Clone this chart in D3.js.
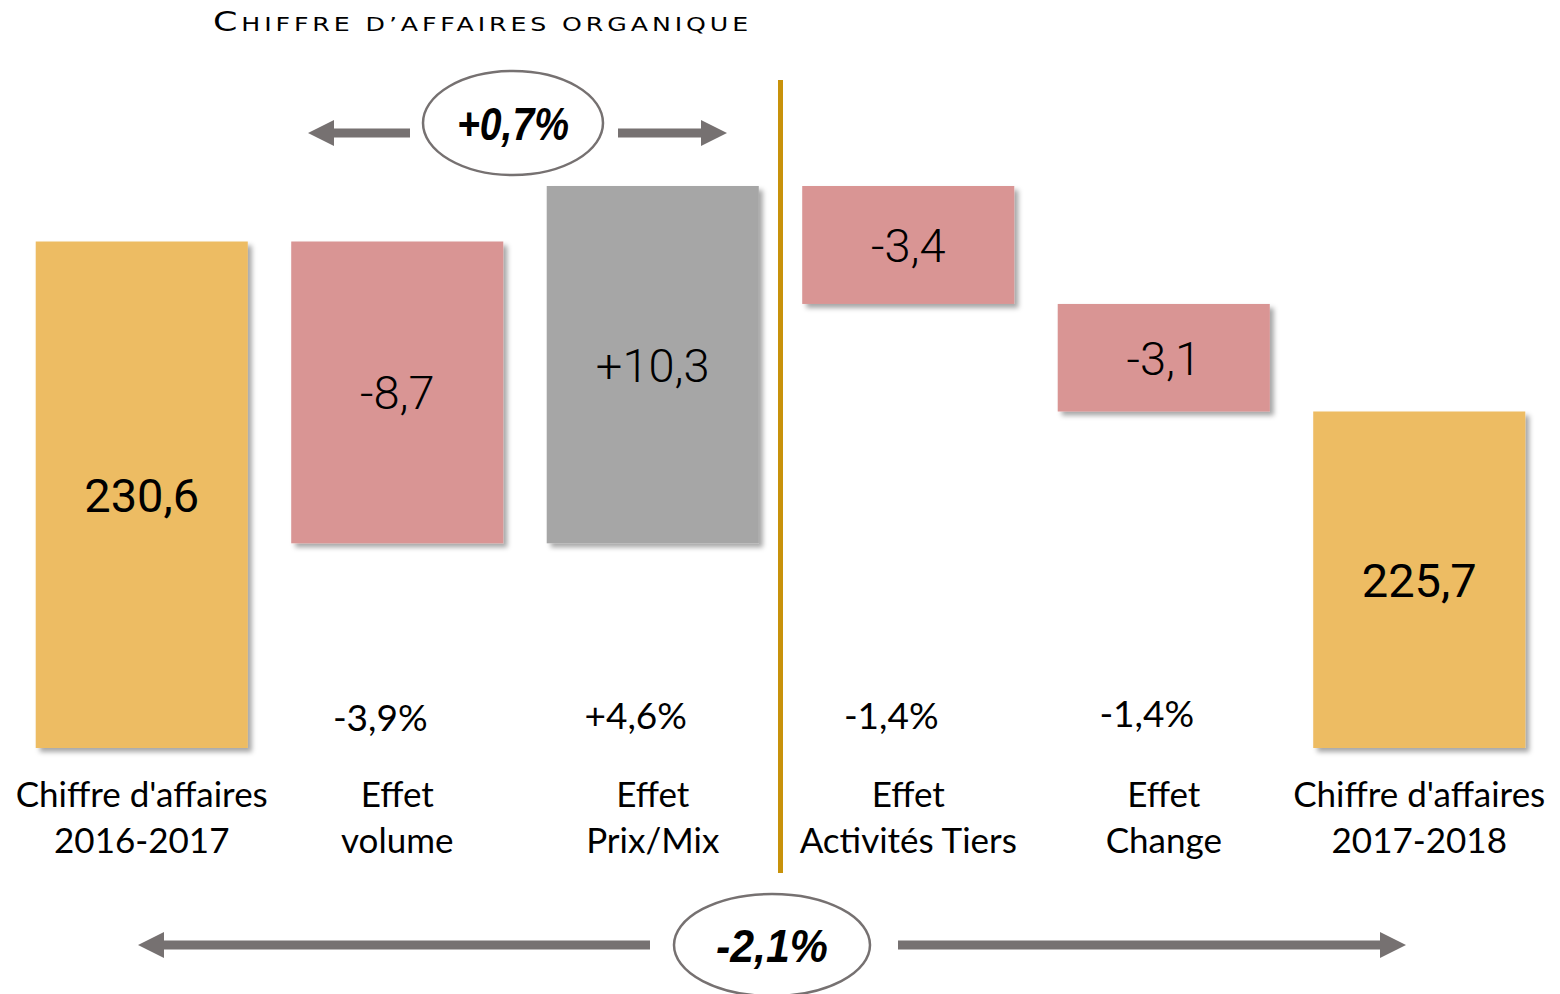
<!DOCTYPE html>
<html>
<head>
<meta charset="utf-8">
<script src="https://cdn.jsdelivr.net/npm/d3@7"></script>
<style>
  html, body { margin: 0; padding: 0; background: #fff; }
  #canvas { width: 1560px; height: 994px; }
</style>
</head>
<body>
<div id="canvas"></div>
<script>
// data
var categories = [
  ["Chiffre d'affaires", "2016-2017"],
  ["Effet", "volume"],
  ["Effet", "Prix/Mix"],
  ["Effet", "Activités Tiers"],
  ["Effet", "Change"],
  ["Chiffre d'affaires", "2017-2018"]
];
var values = [230.6, -8.7, 10.3, -3.4, -3.1, 225.7];
var kinds = ["total", "delta", "delta", "delta", "delta", "total"];
var valueLabels = ["230,6", "-8,7", "+10,3", "-3,4", "-3,1", "225,7"];
var pctLabels = ["", "-3,9%", "+4,6%", "-1,4%", "-1,4%", ""];
var organicLabel = "+0,7%";
var totalLabel = "-2,1%";
var title = "Chiffre d\u2019affaires organique";

var ChartUtil = {
  svg: null,

  draw: function() {
    var width = 1560, height = 994;

    var svg = d3.select("#canvas").append("svg")
      .attr("width", width)
      .attr("height", height);
    ChartUtil.svg = svg;

    // soft shadow under the bars
    var defs = svg.append("defs");
    var f = defs.append("filter").attr("id", "shadow")
      .attr("x", "-5%").attr("y", "-5%").attr("width", "115%").attr("height", "115%");
    f.append("feDropShadow")
      .attr("dx", 4).attr("dy", 4).attr("stdDeviation", 2.5)
      .attr("flood-color", "#000").attr("flood-opacity", 0.35);

    // build the waterfall steps
    var running = 0;
    var steps = values.map(function(v, i) {
      var s;
      if (kinds[i] === "total") {
        s = { y0: 0, y1: v };
        running = v;
      } else {
        s = { y0: running, y1: running + v };
        running += v;
      }
      s.i = i;
      s.v = v;
      s.kind = kinds[i];
      return s;
    });

    var x = d3.scaleBand()
      .domain(d3.range(values.length))
      .range([14, 1547])
      .paddingInner(0.17)
      .paddingOuter(0.085);

    // truncated axis, as in the original
    var y = d3.scaleLinear()
      .domain([216.0, 232.2])
      .range([748, 186]);

    var color = function(d) {
      if (d.kind === "total") return "#EDBC63";
      return d.v < 0 ? "#D99594" : "#A6A6A6";
    };
    var top = function(d) {
      return d.kind === "total" ? y(d.y1) : y(Math.max(d.y0, d.y1));
    };
    var bottom = function(d) {
      return d.kind === "total" ? y.range()[0] : y(Math.min(d.y0, d.y1));
    };

    var bars = svg.append("g");
    bars.selectAll("rect")
      .data(steps)
      .enter().append("rect")
      .attr("x", function(d) { return x(d.i); })
      .attr("width", x.bandwidth())
      .attr("y", top)
      .attr("height", function(d) { return bottom(d) - top(d); })
      .attr("fill", color)
      .attr("filter", "url(#shadow)");

    // values in the bars
    bars.selectAll("text.val")
      .data(steps)
      .enter().append("text")
      .attr("class", "val")
      .attr("x", function(d) { return x(d.i) + x.bandwidth() / 2; })
      .attr("y", function(d) { return (top(d) + bottom(d)) / 2; })
      .attr("dy", "0.36em")
      .attr("text-anchor", "middle")
      .style("font-family", "Roboto, sans-serif")
      .style("font-size", "47px")
      .style("font-weight", function(d) { return d.kind === "total" ? 400 : 300; })
      .attr("fill", "#000")
      .text(function(d) { return valueLabels[d.i]; });

    // percentages under the bars
    svg.append("g").selectAll("text")
      .data(pctLabels)
      .enter().append("text")
      .attr("x", function(d, i) { return x(i) + x.bandwidth() / 2 - 17; })
      .attr("y", function(d, i) { return [0, 731, 729, 729, 727, 0][i]; })
      .attr("text-anchor", "middle")
      .style("font-family", "Lato, 'Open Sans', sans-serif")
      .style("font-size", "37px")
      .attr("fill", "#000")
      .text(function(d) { return d; });

    // category labels
    var cat = svg.append("g").selectAll("text")
      .data(categories)
      .enter().append("text")
      .attr("text-anchor", "middle")
      .attr("x", function(d, i) { return x(i) + x.bandwidth() / 2; })
      .attr("y", 807)
      .style("font-family", "Lato, 'Open Sans', sans-serif")
      .style("font-size", "35px")
      .attr("fill", "#000");
    cat.append("tspan")
      .attr("x", function(d, i) { return x(i) + x.bandwidth() / 2; })
      .text(function(d) { return d[0]; });
    cat.append("tspan")
      .attr("x", function(d, i) { return x(i) + x.bandwidth() / 2; })
      .attr("dy", 46)
      .text(function(d) { return d[1]; });

    // separator between organic and other effects
    var sepX = (x(2) + x.bandwidth() + x(3)) / 2;
    svg.append("line")
      .attr("x1", sepX).attr("x2", sepX)
      .attr("y1", 80).attr("y2", 873)
      .attr("stroke", "#C8920A")
      .attr("stroke-width", 5);

    // title in small capitals, only the first letter full size
    var t = svg.append("text")
      .attr("x", 213)
      .attr("y", 31)
      .attr("textLength", 539)
      .attr("lengthAdjust", "spacingAndGlyphs")
      .style("font-family", "'DejaVu Sans', sans-serif")
      .style("letter-spacing", "3px")
      .attr("fill", "#000");
    var up = title.toUpperCase();
    t.append("tspan").style("font-size", "27px").text(up.slice(0, 1));
    t.append("tspan").style("font-size", "19.5px").text(up.slice(1));

    // bubbles with arrows
    ChartUtil.bubble(513, 123, 90, 52, organicLabel, 308, 410, 618, 727, 133);
    ChartUtil.bubble(772, 945, 98, 51, totalLabel, 138, 650, 898, 1406, 945);
  },

  arrow: function(xFrom, xTo, yy) {
    var dir = xTo > xFrom ? 1 : -1;
    var head = 26, half = 13, th = 4.5;
    var xb = xTo - dir * head;
    var pts = [
      [xFrom, yy - th], [xb, yy - th], [xb, yy - half], [xTo, yy],
      [xb, yy + half], [xb, yy + th], [xFrom, yy + th]
    ];
    ChartUtil.svg.append("path")
      .attr("d", d3.line()(pts) + "Z")
      .attr("fill", "#767171");
  },

  bubble: function(cx, cy, rx, ry, label, lTip, lEnd, rStart, rTip, ay) {
    ChartUtil.arrow(lEnd, lTip, ay);
    ChartUtil.arrow(rStart, rTip, ay);
    ChartUtil.svg.append("ellipse")
      .attr("cx", cx).attr("cy", cy)
      .attr("rx", rx).attr("ry", ry)
      .attr("fill", "#fff")
      .attr("stroke", "#767171")
      .attr("stroke-width", 2.5);
    ChartUtil.svg.append("text")
      .attr("x", cx).attr("y", cy)
      .attr("dy", "0.36em")
      .attr("text-anchor", "middle")
      .attr("textLength", 112)
      .attr("lengthAdjust", "spacingAndGlyphs")
      .style("font-family", "'Liberation Sans Narrow', 'Liberation Sans', Arial, sans-serif")
      .style("font-size", "46px")
      .style("font-weight", "bold")
      .style("font-style", "italic")
      .attr("fill", "#000")
      .text(label);
  }
};

try {
  ChartUtil.draw();
} catch (e) {
  console.log(e);
}
</script>
</body>
</html>
